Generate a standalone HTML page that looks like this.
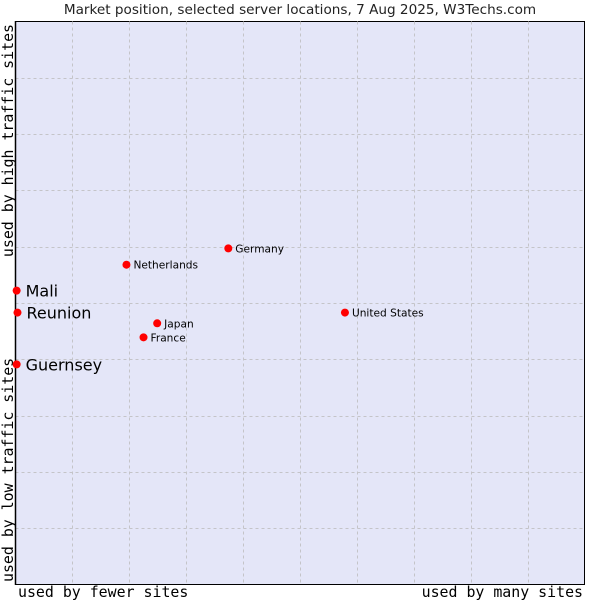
<!DOCTYPE html>
<html><head><meta charset="utf-8"><style>
body{margin:0;background:#fff}
svg{display:block}
</style></head><body>
<svg id="chart" width="600" height="600" xmlns="http://www.w3.org/2000/svg">
<text x="300" y="14" text-anchor="middle" font-family="DejaVu Sans, sans-serif" font-size="13.6" fill="#222">Market position, selected server locations, 7 Aug 2025, W3Techs.com</text>
<rect x="15.5" y="21.5" width="569" height="563" fill="#e4e6f8" stroke="#000" stroke-width="1"/>
<g id="grid"></g>
<line x1="15.5" y1="21" x2="15.5" y2="585" stroke="#000" stroke-width="1.5"/>
<text x="18" y="597" font-family="DejaVu Sans Mono, monospace" font-size="14.9" fill="#000">used by fewer sites</text>
<text x="583" y="597" text-anchor="end" font-family="DejaVu Sans Mono, monospace" font-size="14.9" fill="#000">used by many sites</text>
<text transform="translate(13,24) rotate(-90)" text-anchor="end" font-family="DejaVu Sans Mono, monospace" font-size="14.9" fill="#000">used by high traffic sites</text>
<text transform="translate(13,582) rotate(-90)" text-anchor="start" font-family="DejaVu Sans Mono, monospace" font-size="14.9" fill="#000">used by low traffic sites</text>
<g id="points"></g>
</svg>
<script>
const categories = ["Mali","Reunion","Guernsey","Netherlands","Germany","Japan","France","United States"];
const xValues = [0.2,0.35,0.2,19.5,37.4,24.9,22.5,57.9];
const yValues = [52.2,48.3,39.1,56.8,59.7,46.4,43.9,48.3];
const highlighted = [true,true,true,false,false,false,false,false];
const ns="http://www.w3.org/2000/svg";
const X0=15.5,X1=584.5,Y0=584.5,Y1=21.5;
const sx=v=>X0+(X1-X0)*v/100;
const sy=v=>Y0-(Y0-Y1)*v/100;
const grid=document.getElementById('grid');
for(let i=1;i<10;i++){
  const v=document.createElementNS(ns,'line');
  
  
  const x=Math.round(sx(i*10))+0.5;
  v.setAttribute('x1',x);v.setAttribute('x2',x);v.setAttribute('y1',Y1);v.setAttribute('y2',Y0);
  v.setAttribute('stroke','#c4c4c8');v.setAttribute('stroke-dasharray','3,3');
  grid.appendChild(v);
  const h=document.createElementNS(ns,'line');
  
  
  const y=Math.round(sy(i*10))+0.5;
  h.setAttribute('y1',y);h.setAttribute('y2',y);h.setAttribute('x1',X0);h.setAttribute('x2',X1);
  h.setAttribute('stroke','#c4c4c8');h.setAttribute('stroke-dasharray','3,3');
  grid.appendChild(h);
}
const pts=document.getElementById('points');
categories.forEach((c,i)=>{
  const x=sx(xValues[i]),y=sy(yValues[i]);
  const d=document.createElementNS(ns,'circle');
  
  
  d.setAttribute('cx',x);d.setAttribute('cy',y);d.setAttribute('r',4);d.setAttribute('fill','#f00');
  pts.appendChild(d);
  const t=document.createElementNS(ns,'text');
  
  
  const big=highlighted[i];
  t.setAttribute('x',x+(big?9:7));t.setAttribute('y',y+(big?6:4));
  t.setAttribute('font-family','DejaVu Sans, sans-serif');
  t.setAttribute('font-size',big?16:10.6);
  t.setAttribute('fill','#000');
  t.textContent=c;
  pts.appendChild(t);
});
</script>
</body></html>
